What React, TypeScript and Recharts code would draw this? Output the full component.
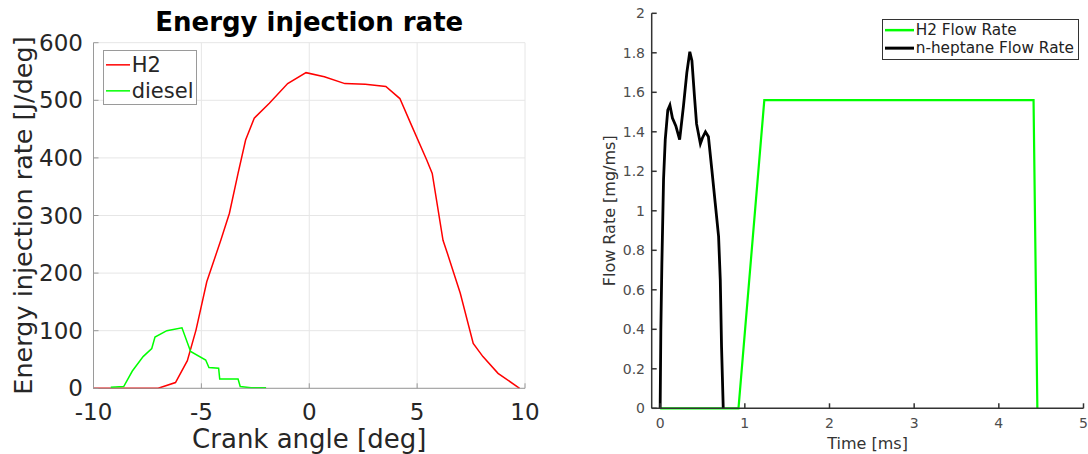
import React from 'react';
import { LineChart, Line, XAxis, YAxis, CartesianGrid, Legend, Label } from 'recharts';

// left panel: energy injection rate vs crank angle
const h2Angle = [-10, -7, -6.2, -5.65, -5.25, -4.75, -4.1, -3.7, -3.3, -2.95, -2.55, -1.85, -1.0, -0.15, 0.7, 1.65, 2.6, 3.55, 4.2, 4.7, 5.45, 5.7, 6.2, 6.45, 7.0, 7.6, 8.05, 8.75, 9.75];
const h2Rate = [0, 0, 10, 48, 101, 185, 257, 304, 373, 431, 469, 495, 529, 548, 541, 529, 528, 524, 503, 460, 396, 373, 257, 229, 165, 78, 55, 26, 0];
const dieselAngle = [-9.2, -8.6, -8.2, -7.7, -7.3, -7.15, -6.6, -5.9, -5.5, -4.8, -4.65, -4.2, -4.15, -3.3, -3.2, -2.7, -2.0];
const dieselRate = [2, 3, 30, 55, 69, 89, 100, 105, 64, 49, 36, 35, 16, 16, 3, 1, 1];
const angleTicks = [-10, -5, 0, 5, 10];
const energyTicks = [0, 100, 200, 300, 400, 500, 600];

// right panel: flow rate vs time
const h2Time = [0, 0.925, 1.23, 4.41, 4.455];
const h2Flow = [0, 0, 1.56, 1.56, 0];
const heptTime = [0, 0.008, 0.02, 0.04, 0.06, 0.09, 0.115, 0.145, 0.185, 0.23, 0.275, 0.315, 0.35, 0.375, 0.405, 0.43, 0.475, 0.5, 0.535, 0.57, 0.61, 0.65, 0.69, 0.71, 0.725, 0.745];
const heptFlow = [0, 0.4, 0.73, 1.16, 1.36, 1.51, 1.535, 1.47, 1.43, 1.36, 1.53, 1.7, 1.805, 1.76, 1.58, 1.44, 1.34, 1.37, 1.4, 1.375, 1.21, 1.04, 0.87, 0.65, 0.31, 0];
const timeTicks = [0, 1, 2, 3, 4, 5];
const flowTicks = [0, 0.2, 0.4, 0.6, 0.8, 1, 1.2, 1.4, 1.6, 1.8, 2];

const zip = (xs: number[], ys: number[]) => xs.map((x, i) => ({ x, y: ys[i] }));

const FONT = 'DejaVu Sans, sans-serif';

function LegendBox({ items, fontSize, rowH, lineW, border, width, color }: any) {
  return (
    <div style={{ border, background: '#fff', width, boxSizing: 'border-box', fontFamily: FONT, fontSize, color, padding: '1px 0' }}>
      {items.map((it: any) => (
        <div key={it.name} style={{ display: 'flex', alignItems: 'center', height: rowH, whiteSpace: 'nowrap' }}>
          <svg width={lineW + 4} height={rowH} style={{ flex: 'none' }}>
            <line x1={2} x2={lineW + 2} y1={rowH / 2} y2={rowH / 2} stroke={it.color} strokeWidth={it.width} />
          </svg>
          <span>{it.name}</span>
        </div>
      ))}
    </div>
  );
}

export default function App() {
  const h2 = zip(h2Angle, h2Rate);
  const diesel = zip(dieselAngle, dieselRate);
  const h2f = zip(h2Time, h2Flow);
  const hept = zip(heptTime, heptFlow);

  return (
    <div style={{ position: 'absolute', left: 0, top: 0, width: 1088, height: 454, background: '#fff', fontFamily: FONT }}>
      <div style={{ position: 'absolute', left: 93.5, width: 431.5, top: 9, textAlign: 'center', fontSize: 26, lineHeight: '26px', fontWeight: 'bold', color: '#000', whiteSpace: 'nowrap' }}>
        Energy injection rate
      </div>

      <div style={{ position: 'absolute', left: 0, top: 0 }}>
        <LineChart width={540} height={454} margin={{ top: 42.7, right: 15, bottom: 0, left: 0 }}>
          <CartesianGrid stroke="#e6e6e6" />
          <XAxis type="number" dataKey="x" domain={[-10, 10]} ticks={angleTicks} interval={0} height={65.7}
            stroke="#9a9a9a" tickSize={-5} tickMargin={20}
            tick={{ fill: '#262626', fontSize: 23, fontFamily: FONT }}>
            <Label value="Crank angle [deg]" position="center" dy={18} fill="#262626" fontSize={26} fontFamily={FONT} />
          </XAxis>
          <YAxis type="number" domain={[0, 600]} ticks={energyTicks} interval={0} width={93.5}
            stroke="#9a9a9a" tickSize={-5} tickMargin={15.5}
            tick={{ fill: '#262626', fontSize: 23, fontFamily: FONT }}>
            <Label value="Energy injection rate [J/deg]" angle={-90} position="center" dx={-23.5} fill="#262626" fontSize={25.5} fontFamily={FONT} />
          </YAxis>
          <Legend layout="vertical" align="center" verticalAlign="middle"
            wrapperStyle={{ left: 102.7, top: 50, width: 94 }}
            content={() => (
              <LegendBox fontSize={21} rowH={25.7} lineW={24} border="1px solid #9a9a9a" width={94} color="#262626"
                items={[{ name: 'H2', color: '#ff0000', width: 1.5 }, { name: 'diesel', color: '#00ff00', width: 1.5 }]} />
            )} />
          <Line data={h2} dataKey="y" name="H2" type="linear" stroke="#ff0000" strokeWidth={1.5} dot={false} isAnimationActive={false} />
          <Line data={diesel} dataKey="y" name="diesel" type="linear" stroke="#00ff00" strokeWidth={1.5} dot={false} isAnimationActive={false} />
        </LineChart>
      </div>

      <div style={{ position: 'absolute', left: 560, top: 0 }}>
        <LineChart width={528} height={454} margin={{ top: 13.3, right: 4.5, bottom: 0, left: 0 }}>
          <XAxis type="number" dataKey="x" domain={[-0.1, 5]} ticks={timeTicks} interval={0} height={45.7}
            stroke="#333" strokeWidth={1.5} tickSize={-5} tickMargin={15}
            tick={{ fill: '#4d4d4d', fontSize: 14, fontFamily: FONT }}>
            <Label value="Time [ms]" position="center" dy={12} fill="#333" fontSize={16} fontFamily={FONT} />
          </XAxis>
          <YAxis type="number" domain={[0, 2]} ticks={flowTicks} interval={0} width={91.7}
            stroke="#333" strokeWidth={1.5} tickSize={-5} tickMargin={11.7}
            tick={{ fill: '#4d4d4d', fontSize: 14, fontFamily: FONT }}>
            <Label value="Flow Rate [mg/ms]" angle={-90} position="center" dx={3} fill="#333" fontSize={16} fontFamily={FONT} />
          </YAxis>
          <Legend layout="vertical" align="center" verticalAlign="middle"
            wrapperStyle={{ left: 321.7, top: 19, width: 197 }}
            content={() => (
              <LegendBox fontSize={15.3} rowH={18.3} lineW={29} border="1.5px solid #333" width={197} color="#222"
                items={[{ name: 'H2 Flow Rate', color: '#00ff00', width: 2.5 }, { name: 'n-heptane Flow Rate', color: '#000', width: 3 }]} />
            )} />
          <Line data={h2f} dataKey="y" name="H2 Flow Rate" type="linear" stroke="#00ff00" strokeWidth={2.2} dot={false} isAnimationActive={false} />
          <Line data={hept} dataKey="y" name="n-heptane Flow Rate" type="linear" stroke="#000" strokeWidth={2.8} dot={false} isAnimationActive={false} />
        </LineChart>
      </div>
    </div>
  );
}
